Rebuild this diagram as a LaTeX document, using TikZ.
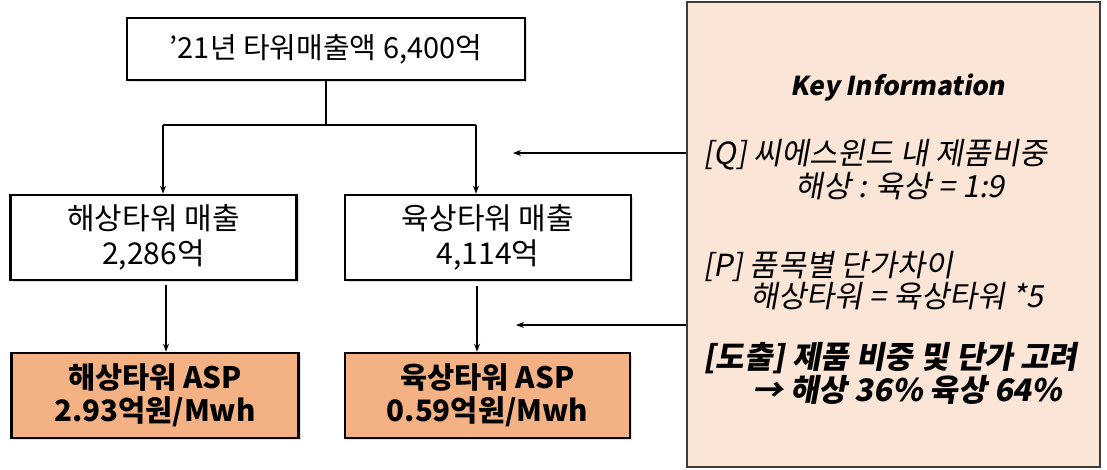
\documentclass[tikz,border=0pt]{standalone}
\usepackage{fontspec}
\setmainfont{Noto Sans CJK KR}
\newfontfamily\keyit{Noto Sans CJK KR}[FakeSlant=0.18]
\usetikzlibrary{arrows.meta,shadows}
\definecolor{asp}{HTML}{F4B183}
\definecolor{keybg}{HTML}{FBE5D6}
\tikzset{
  box/.style={draw=black, line width=2.6pt, fill=white, align=center, inner sep=0pt,
    font=\fontsize{30}{35}\selectfont,
    drop shadow={shadow xshift=2pt, shadow yshift=-2pt, opacity=0.25, fill=gray}},
  aspbox/.style={box, fill=asp, font=\fontsize{29.5}{33}\selectfont\bfseries},
  conn/.style={line width=1.1pt, draw=black},
  arr/.style={conn, -{Stealth[length=8pt,width=6pt]}},
  keytxt/.style={anchor=west, font=\keyit\fontsize{30.5}{34}\selectfont, inner sep=0pt},
  keybold/.style={keytxt, font=\keyit\bfseries\fontsize{31}{34}\selectfont},
}
\begin{document}
\begin{tikzpicture}[x=1pt,y=-1pt]
\useasboundingbox (0,0) rectangle (1107,469);
\node[box, minimum width=398pt, minimum height=62pt, font=\fontsize{29}{35}\selectfont] (top) at (326,49) {’21년 타워매출액 6,400억};
\node[box, minimum width=286pt, minimum height=85pt] (lmid) at (153.5,237.5) {해상타워 매출\\2,286억};
\node[box, minimum width=286pt, minimum height=85pt] (rmid) at (488,237.5) {육상타워 매출\\4,114억};
\node[aspbox, minimum width=287pt, minimum height=85pt] (lbot) at (155,395.5) {해상타워 ASP\\2.93억원/Mwh};
\node[aspbox, minimum width=285pt, minimum height=85pt] (rbot) at (487.5,395.5) {육상타워 ASP\\0.59억원/Mwh};
\node[draw={rgb,255:red,60;green,60;blue,60}, line width=2pt, fill=keybg, minimum width=413pt, minimum height=465pt, inner sep=0pt] (key) at (893.5,234.5) {};
% key texts
\node[font=\keyit\bfseries\fontsize{26}{30}\selectfont] (kt) at (898,88) {Key Information};
\node[keytxt] (q1) at (703,155) {[Q] 씨에스윈드 내 제품비중};
\node[keytxt] (q2) at (795,186) {해상 : 육상 = 1:9};
\node[keytxt] (p1) at (703,266) {[P] 품목별 단가차이};
\node[keytxt] (p2) at (750,296) {해상타워 = 육상타워 *5};
\node[keybold] (d1) at (703,358) {[도출] 제품 비중 및 단가 고려};
\node[keybold] (d2) at (752,390) {→ 해상 36\% 육상 64\%};
% connectors
\coordinate (bl) at (163,125);
\coordinate (br) at (476,125);
\draw[conn] (top.south) -- (top.south |- bl);
\draw[conn] (bl) -- (br);
\draw[arr] (bl) -- (bl |- lmid.north);
\draw[arr] (br) -- (br |- rmid.north);
\coordinate (la) at (166,285);
\coordinate (ra) at (477,286);
\draw[arr] (la) -- (la |- lbot.north);
\draw[arr] (ra) -- (ra |- rbot.north);
\coordinate (qa) at (513,153);
\coordinate (pa) at (516,325);
\draw[arr] (key.west |- qa) -- (qa);
\draw[arr] (key.west |- pa) -- (pa);
\end{tikzpicture}
\end{document}
